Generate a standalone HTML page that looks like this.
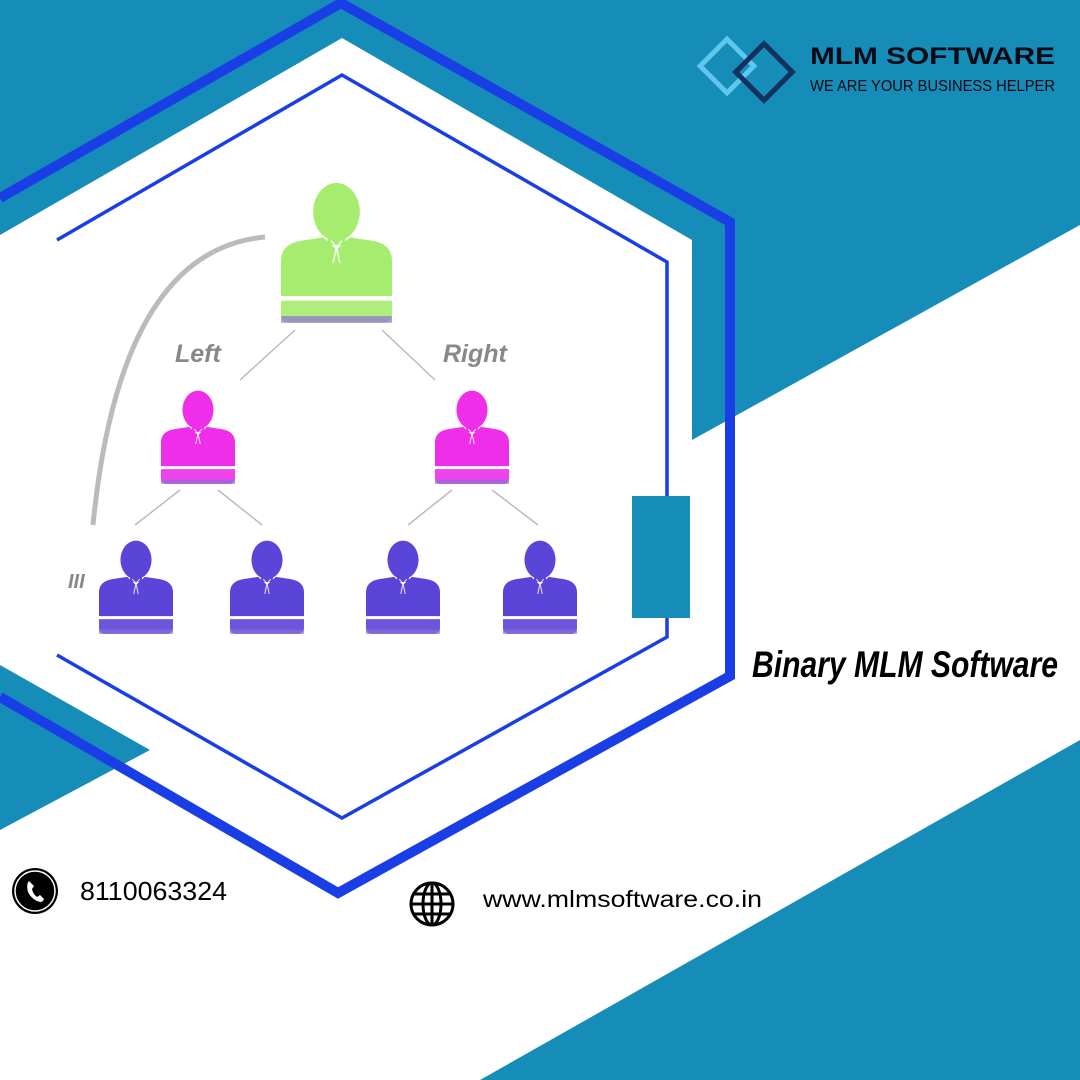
<!DOCTYPE html>
<html><head><meta charset="utf-8"><style>
html,body{margin:0;padding:0;width:1080px;height:1080px;overflow:hidden;background:#168cb9}
svg{display:block}
</style></head><body>
<svg width="1080" height="1080" viewBox="0 0 1080 1080" xmlns="http://www.w3.org/2000/svg">
<defs>
<symbol id="p" viewBox="0 0 100 128">
<ellipse cx="50" cy="26" rx="21" ry="26"/>
<rect x="42" y="44" width="16" height="12"/>
<path d="M0 70 Q0 55 18 52 L38 49 L50 60 L62 49 L82 52 Q100 55 100 70 L100 102 L0 102 Z"/>
<path d="M0 106 L100 106 L100 118 Q100 124 94 126 L6 126 Q0 124 0 118 Z" opacity="0.9"/>
<path d="M0 120 L100 120 L100 126 L0 126 Z" fill="#8a6fd8" opacity="0.7"/>
<path d="M45 52 L50 58 L55 52 M50 58 L47 72 M50 58 L53 72" stroke="#fff" stroke-width="1.5" fill="none" opacity="0.8"/>
</symbol>
</defs>
<!-- white regions -->
<polygon points="0,235 342,38 692,240 692,440 1080,225 1080,740 480,1080 0,1080" fill="#fff"/>
<polygon points="0,665 150,750 0,830" fill="#168cb9"/>
<!-- outer thick hexagon -->
<polyline points="0,198 341,3 730,222 730,676 338,893 0,697" fill="none" stroke="#1a3ee6" stroke-width="10"/>
<!-- inner thin hexagon -->
<polyline points="57,240 342,75 667,262 667,637 342,818 57,655" fill="none" stroke="#1a3ee6" stroke-width="3.5"/>
<rect x="632" y="496" width="58" height="122" fill="#168cb9"/>
<!-- arc -->
<path d="M265 237 Q120 250 93 525" fill="none" stroke="#bbb" stroke-width="5"/>
<!-- connector lines -->
<g stroke="#bbb" stroke-width="1.5">
<line x1="295" y1="330" x2="240" y2="380"/>
<line x1="382" y1="330" x2="435" y2="380"/>
<line x1="180" y1="490" x2="135" y2="525"/>
<line x1="218" y1="490" x2="262" y2="525"/>
<line x1="452" y1="490" x2="408" y2="525"/>
<line x1="492" y1="490" x2="538" y2="525"/>
</g>
<!-- people -->
<use href="#p" x="281" y="183" width="111" height="142" fill="#a6ec6e"/>
<use href="#p" x="161" y="385" width="74" height="106" fill="#ee2ee8"/>
<use href="#p" x="435" y="385" width="74" height="106" fill="#ee2ee8"/>
<use href="#p" x="99" y="535" width="74" height="106" fill="#5b44d8"/>
<use href="#p" x="230" y="535" width="74" height="106" fill="#5b44d8"/>
<use href="#p" x="366" y="535" width="74" height="106" fill="#5b44d8"/>
<use href="#p" x="503" y="535" width="74" height="106" fill="#5b44d8"/>
<g font-family="Liberation Sans, sans-serif" font-style="italic" font-weight="bold" fill="#888" font-size="25">
<text x="175" y="362">Left</text>
<text x="443" y="362">Right</text>
<text x="68" y="588" font-size="20">III</text>
</g>
<!-- logo -->
<rect x="708" y="47" width="38" height="38" transform="rotate(45 727 66)" fill="none" stroke="#5fc6ee" stroke-width="5"/>
<rect x="744" y="52" width="40" height="40" transform="rotate(45 764 72)" fill="none" stroke="#14315e" stroke-width="5"/>
<text x="810" y="64" font-family="Liberation Sans, sans-serif" font-weight="bold" font-size="24" fill="#0a0a14" textLength="245" lengthAdjust="spacingAndGlyphs">MLM SOFTWARE</text>
<text x="810" y="91" font-family="Liberation Sans, sans-serif" font-size="16" fill="#0a0a14" textLength="245" lengthAdjust="spacingAndGlyphs">WE ARE YOUR BUSINESS HELPER</text>
<!-- title -->
<text x="752" y="677" font-family="Liberation Sans Narrow, Liberation Sans, sans-serif" font-style="italic" font-weight="bold" font-size="37" fill="#000" textLength="306" lengthAdjust="spacingAndGlyphs">Binary MLM Software</text>
<!-- phone -->
<circle cx="35" cy="891" r="23" fill="#000"/>
<circle cx="35" cy="891" r="20" fill="none" stroke="#fff" stroke-width="1.5"/>
<path d="M29 881 Q26 884 28 892 Q32 900 40 902 Q43 902 44 899 L40 895 L37 897 Q33 894 32 889 L34 886 Z" fill="#fff"/>
<text x="80" y="900" font-family="Liberation Sans, sans-serif" font-size="26" fill="#000" textLength="147" lengthAdjust="spacingAndGlyphs">8110063324</text>
<!-- globe -->
<g fill="none" stroke="#000" stroke-width="3">
<circle cx="432" cy="904" r="21"/>
<ellipse cx="432" cy="904" rx="9" ry="21"/>
<line x1="432" y1="883" x2="432" y2="925"/>
<line x1="411" y1="904" x2="453" y2="904"/>
<line x1="414" y1="894" x2="450" y2="894"/>
<line x1="414" y1="914" x2="450" y2="914"/>
</g>
<text x="483" y="907" font-family="Liberation Sans, sans-serif" font-size="23" fill="#000" textLength="279" lengthAdjust="spacingAndGlyphs">www.mlmsoftware.co.in</text>
</svg>
</body></html>
